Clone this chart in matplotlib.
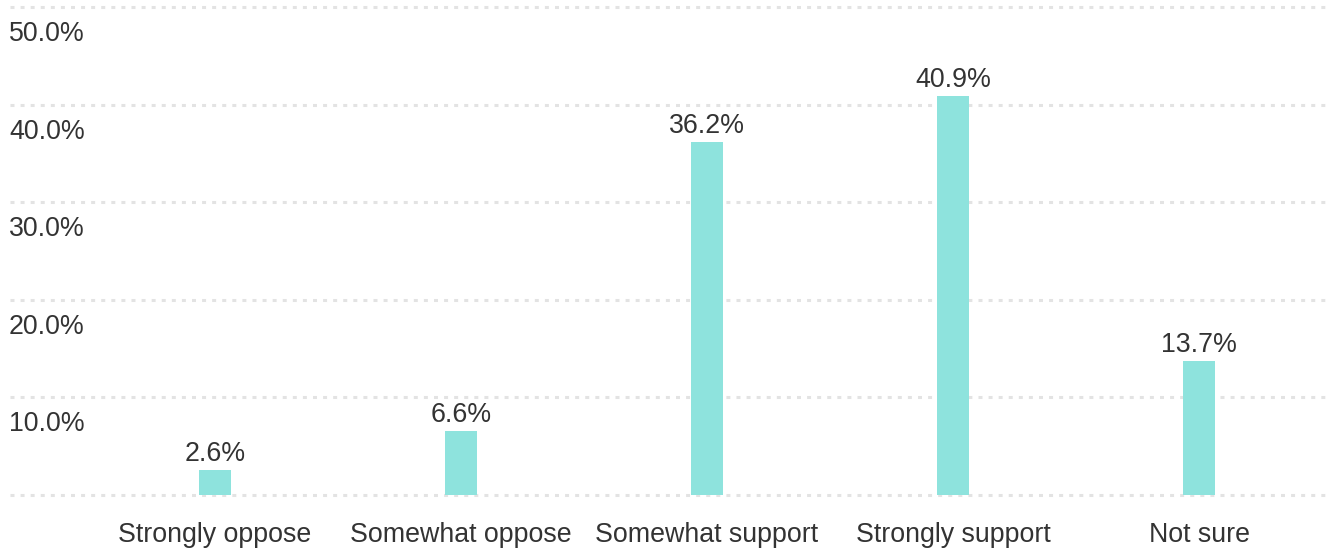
import matplotlib
matplotlib.use("Agg")
import matplotlib.pyplot as plt
import matplotlib.transforms as mtransforms

categories = ["Strongly oppose", "Somewhat oppose", "Somewhat support", "Strongly support", "Not sure"]
values = [2.6, 6.6, 36.2, 40.9, 13.7]
value_labels = ["2.6%", "6.6%", "36.2%", "40.9%", "13.7%"]
yticks = [0, 10, 20, 30, 40, 50]
ytick_labels = ["", "10.0%", "20.0%", "30.0%", "40.0%", "50.0%"]

plt.rcParams['font.family'] = ['Liberation Sans', 'DejaVu Sans']

W, H = 1327, 550
fig = plt.figure(figsize=(W / 100, H / 100), dpi=100)
left_px, right_px = 10, 1325
bot_px, top_px = 495, 7
ax = fig.add_axes([left_px / W, (H - bot_px) / H, (right_px - left_px) / W, (bot_px - top_px) / H])
ax.set_ylim(0, 50)
x0_px, step_px = 215, 246
ax.set_xlim((left_px - x0_px) / step_px, (right_px - x0_px) / step_px)
for s in ax.spines.values():
    s.set_visible(False)
ax.set_xticks([])
ax.set_yticks([])

grid_color = "#e3e3e3"
for t in yticks:
    ax.axhline(t, color=grid_color, lw=2.2, linestyle=(0, (1.3, 2.0)),
               dash_capstyle="butt", zorder=0, clip_on=False)

bar_color = "#8ee3dd"
bar_w = 32 / step_px
for i, v in enumerate(values):
    ax.bar(i, v, width=bar_w, color=bar_color, zorder=2, linewidth=0)

text_color = "#333333"
fs = 19.3
for i, (v, lab) in enumerate(zip(values, value_labels)):
    tr = mtransforms.offset_copy(ax.transData, fig=fig, x=0, y=9, units="dots")
    ax.text(i, v, lab, transform=tr, ha="center", va="baseline", fontsize=fs, color=text_color)

for t, lab in zip(yticks, ytick_labels):
    if not lab:
        continue
    tr = mtransforms.blended_transform_factory(fig.transFigure, ax.transData)
    tr = mtransforms.offset_copy(tr, fig=fig, x=0, y=-27, units="dots")
    ax.text(9 / W, t, lab, transform=tr, ha="left", va="center", fontsize=fs, color=text_color)

for i, cat in enumerate(categories):
    tr = mtransforms.blended_transform_factory(ax.transData, fig.transFigure)
    ax.text(i, (H - 535) / H, cat, transform=tr, ha="center", va="center", fontsize=fs, color=text_color)

fig.savefig("out.png", dpi=100)
